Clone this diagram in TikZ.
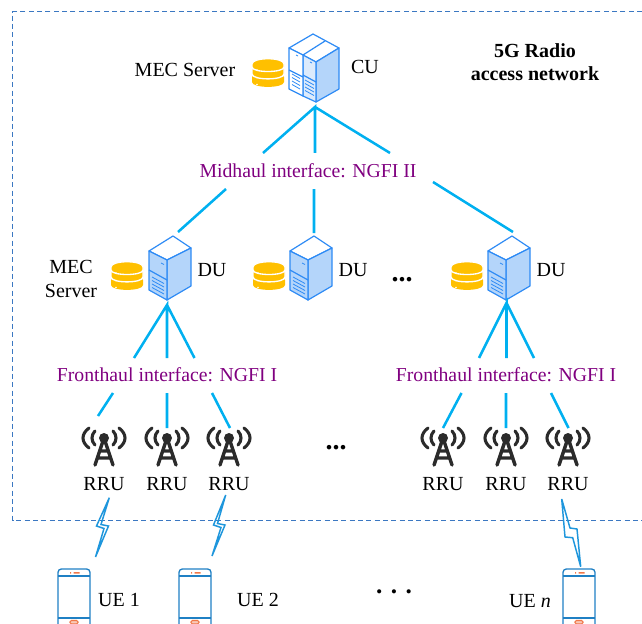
\documentclass[tikz,border=0pt]{standalone}
\usepackage{fontspec}
\setmainfont{Liberation Serif}
\definecolor{linkblue}{HTML}{00B0F0}
\definecolor{framblue}{HTML}{3B78C2}
\definecolor{srvblue}{HTML}{2E8BF5}
\definecolor{srvfill}{HTML}{B4D5FA}
\definecolor{srvpale}{HTML}{DCEBFC}
\definecolor{dbgold}{HTML}{FFC000}
\definecolor{towergray}{HTML}{2B2B2B}
\definecolor{phoneblue}{HTML}{1F80C4}
\definecolor{phoneorange}{HTML}{F0784A}
\definecolor{boltblue}{HTML}{1E96DC}
\definecolor{ifpurple}{HTML}{800080}
\tikzset{
  lbl/.style={font=\fontsize{15}{17.5}\selectfont,inner sep=0pt,align=center},
  iflbl/.style={lbl,text=ifpurple,font=\fontsize{14.8}{17.5}\selectfont},
  dotlbl/.style={lbl,font=\fontsize{21}{24}\selectfont\bfseries},
  link/.style={linkblue,line width=1.9pt},
  bolt/.style={boltblue,line width=1.1pt,line join=miter},
  du/.pic={
    \draw[srvblue,line width=0.9pt,line join=round,fill=white] (-18,-19)--(6,-34)--(24,-22)--(0,-10)--cycle;
    \draw[srvblue,line width=0.9pt,line join=round,fill=srvfill] (0,-10)--(24,-22)--(24,16)--(0,30)--cycle;
    \draw[srvblue,line width=0.9pt,line join=round,fill=srvfill] (-18,-19)--(0,-10)--(0,30)--(-18,20)--cycle;
    \draw[srvblue,line width=0.9pt] (-18,0)--(0,10);
    \draw[srvblue,line width=0.6pt] (-15,7)--(-3,13.5) (-15,10.5)--(-3,17) (-15,14)--(-3,20.5) (-15,17.5)--(-3,24);
    \draw[srvblue,line width=0.6pt] (-6,-7)--(-3,-5.5);
  },
  cu/.pic={
    \draw[srvblue,line width=0.9pt,line join=round,fill=white] (-27,-15)--(-3,-29)--(23,-15)--(0,-1)--cycle;
    \draw[srvblue,line width=0.9pt,line join=round,fill=srvfill] (0,-1)--(23,-15)--(23,26)--(0,39)--cycle;
    \draw[srvblue,line width=0.9pt,line join=round,fill=srvpale] (-13,-8)--(0,-1)--(0,39)--(-13,33)--cycle;
    \draw[srvblue,line width=0.9pt,line join=round,fill=white] (-27,-15)--(-13,-8)--(-13,33)--(-27,26)--cycle;
    \draw[srvblue,line width=0.9pt] (-13,-8)--(9,-22) (-27,7)--(-13,14) (-13,12)--(0,19);
    \draw[srvblue,line width=0.6pt] (-24,11)--(-16,15.5) (-24,14.5)--(-16,19) (-24,18)--(-16,22.5) (-24,21.5)--(-16,26);
    \draw[srvblue,line width=0.6pt] (-11,17)--(-2,22) (-11,20.5)--(-2,25.5) (-11,24)--(-2,29) (-11,27.5)--(-2,32.5);
    \draw[srvblue,line width=0.6pt] (-20,-8)--(-18,-7) (-6,-1)--(-4,0);
  },
  dbstack/.pic={
    \fill[dbgold] (-16,4) .. controls (-16,-1) and (16,-1) .. (16,4) -- (16,9) .. controls (16,15.5) and (-16,15.5) .. (-16,9) -- cycle;
    \draw[white,line width=1pt,fill=dbgold] (-16,-4) .. controls (-16,-9) and (16,-9) .. (16,-4) -- (16,1) .. controls (16,7.5) and (-16,7.5) .. (-16,1) -- cycle;
    \draw[white,line width=1pt,fill=dbgold] (-16,-9) .. controls (-16,-16) and (16,-16) .. (16,-9) -- (16,-6) .. controls (16,0) and (-16,0) .. (-16,-6) -- cycle;
    \fill[white] (-11,-3) circle (0.8) (-11,4.5) circle (0.8) (-11,11.5) circle (0.8);
  },
  tower/.pic={
    \fill[towergray] (0,0) circle (5);
    \draw[towergray,line width=2.6pt,line cap=round,line join=round] (-9,27)--(0,0)--(9,27) (-4,13)--(4,13) (-6,20)--(6,20);
    \draw[towergray,line width=2.3pt,line cap=round] (-9,-7) .. controls (-13,-3) and (-13,3) .. (-9,7) (9,-7) .. controls (13,-3) and (13,3) .. (9,7);
    \draw[towergray,line width=2.3pt,line cap=round] (-15,-10) .. controls (-23,-4) and (-23,4) .. (-15,10) (15,-10) .. controls (23,-4) and (23,4) .. (15,10);
  },
  phone/.pic={
    \draw[phoneblue,line width=1pt,rounded corners=2.5pt] (-16,60)--(-16,0)--(16,0)--(16,60);
    \draw[phoneblue,line width=1pt] (-16,7)--(16,7) (-16,49)--(16,49);
    \fill[phoneorange] (-0.5,3) rectangle (5.5,4.6) (-4,3) rectangle (-3,4.6);
    \draw[phoneorange,line width=0.8pt,fill=phoneorange!40,rounded corners=1pt] (-4,51.5) rectangle (4,55);
  }
}
\begin{document}
\begin{tikzpicture}[x=0.75pt,y=-0.75pt]
  \clip (0,0) rectangle (642,624);
  \draw[framblue,line width=0.7pt,dash pattern=on 3.75pt off 2.5pt] (642,11.7)--(12.5,11.7)--(12.5,520)--(642,520);
  \node[lbl,font=\fontsize{15}{17.3}\selectfont\bfseries] (title) at (535,62.5) {5G Radio\\access network};
  % icons
  \pic at (316,63) {cu};
  \pic at (268,73) {dbstack};
  \pic at (167,270) {du};
  \pic at (127,276) {dbstack};
  \pic at (308,270) {du};
  \pic at (269,276) {dbstack};
  \pic at (506,270) {du};
  \pic at (467,276) {dbstack};
  \pic at (104,438) {tower};
  \pic at (167,438) {tower};
  \pic at (229,438) {tower};
  \pic at (443,438) {tower};
  \pic at (506,438) {tower};
  \pic at (568,438) {tower};
  \pic at (74,569) {phone};
  \pic at (195,569) {phone};
  \pic at (579,569) {phone};
  % labels
  \node[lbl] (mec) at (185,70) {MEC Server};
  \node[lbl] (cu) at (365,67) {CU};
  \node[lbl,font=\fontsize{15}{18}\selectfont] (mecb) at (71,279) {MEC\\Server};
  \node[lbl] (dua) at (212,270) {DU};
  \node[lbl] (dub) at (353,270) {DU};
  \node[lbl] (duc) at (551,270) {DU};
  \node[iflbl] (mid) at (308,171) {Midhaul interface: NGFI II};
  \node[iflbl] (fha) at (167,375) {Fronthaul interface: NGFI I};
  \node[iflbl] (fhb) at (506,375) {Fronthaul interface: NGFI I};
  \node[lbl] (rrua) at (104,484) {RRU};
  \node[lbl] (rrub) at (167,484) {RRU};
  \node[lbl] (rruc) at (229,484) {RRU};
  \node[lbl] (rrud) at (443,484) {RRU};
  \node[lbl] (rrue) at (506,484) {RRU};
  \node[lbl] (rruf) at (568,484) {RRU};
  \node[lbl] (uea) at (119,600) {UE 1};
  \node[lbl] (ueb) at (258,600) {UE 2};
  \node[lbl] (uec) at (530,601) {UE \textit{n}};
  \node[dotlbl] (dotsa) at (402,280) {...};
  \node[dotlbl] (dotsb) at (336,448) {...};
  \node[lbl,font=\fontsize{19}{24}\selectfont\bfseries] (dotsc) at (394,592) {.\,\,.\,\,.};
  % link ends
  \coordinate (cuf) at (315,107);
  \coordinate (mida) at (263,153);
  \coordinate (midb) at (315,153);
  \coordinate (midc) at (390,153);
  \coordinate (midd) at (226,189);
  \coordinate (mide) at (314,189);
  \coordinate (midf) at (433,182);
  \coordinate (duat) at (178,232);
  \coordinate (dubt) at (314,233);
  \coordinate (duct) at (513,232);
  \coordinate (duab) at (167,305);
  \coordinate (ducb) at (506.5,303);
  \coordinate (fa) at (134,358);
  \coordinate (fb) at (167,358);
  \coordinate (fc) at (194.5,358);
  \coordinate (fd) at (479,358);
  \coordinate (fe) at (506.5,358);
  \coordinate (ff) at (534,358);
  \coordinate (ga) at (113,393);
  \coordinate (gb) at (167,393);
  \coordinate (gc) at (212,393);
  \coordinate (gd) at (461.5,393);
  \coordinate (ge) at (506,393);
  \coordinate (gf) at (551,393);
  \coordinate (ta) at (98,416);
  \coordinate (tb) at (167,428);
  \coordinate (tc) at (230,428);
  \coordinate (td) at (443,428);
  \coordinate (te) at (506,428);
  \coordinate (tf) at (568.5,428);
  \draw[link] (mida)--(cuf)--(midb) (cuf)--(midc);
  \draw[link] (midd)--(duat) (mide)--(dubt) (midf)--(duct);
  \draw[link] (fa)--(duab)--(fb) (duab)--(fc);
  \draw[link] (fd)--(ducb)--(fe) (ducb)--(ff);
  \draw[link] (ga)--(ta) (gb)--(tb) (gc)--(tc);
  \draw[link] (gd)--(td) (ge)--(te) (gf)--(tf);
  % radio links
  \draw[bolt] (109.3,497.7)--(96.5,526)--(104,528.5)--(95.5,557)--(108.5,526)--(101,524.5)--cycle;
  \draw[bolt] (225.7,495)--(213.5,525)--(221,527.5)--(212,556)--(225,525)--(217.5,523.5)--cycle;
  \draw[bolt] (561.7,499)--(565,537)--(572.7,537.7)--(580.7,566.7)--(577,529)--(570,528)--cycle;
\end{tikzpicture}
\end{document}
